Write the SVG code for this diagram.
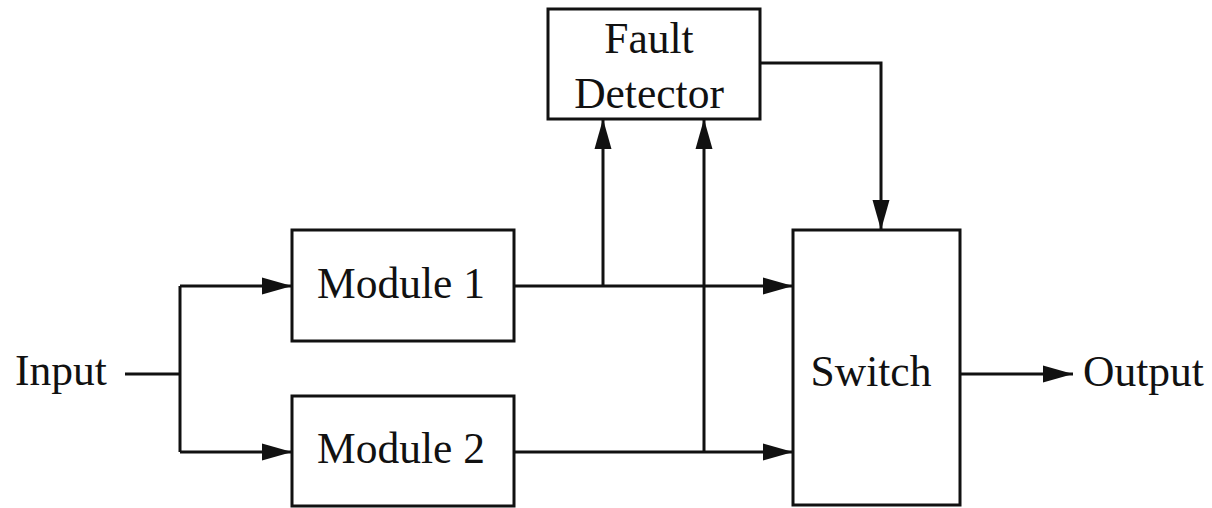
<svg xmlns="http://www.w3.org/2000/svg" width="1212" height="508" viewBox="0 0 1212 508">
  <style>
    .box { fill: #ffffff; stroke: #111111; stroke-width: 3; }
    .wire { fill: none; stroke: #111111; stroke-width: 3; }
    .lbl { font-family: "Liberation Serif", "Times New Roman", serif; font-size: 43.5px; fill: #111111; text-anchor: middle; }
    .side { text-anchor: start; }
  </style>
  <defs>
    <marker id="arrow" markerUnits="userSpaceOnUse" markerWidth="32" markerHeight="18" viewBox="0 0 30 18" refX="30" refY="9" orient="auto">
      <path d="M0,0.5 L30,9 L0,17.5 Z" fill="#111111"/>
    </marker>
  </defs>
  <rect width="1212" height="508" fill="#ffffff"/>

  <!-- connectors -->
  <g id="connectors">
    <!-- input split -->
    <path class="wire" d="M125,374 H180"/>
    <path class="wire" d="M180,286 V452"/>
    <path class="wire" d="M180,286 H292" marker-end="url(#arrow)"/>
    <path class="wire" d="M180,452 H292" marker-end="url(#arrow)"/>
    <!-- module outputs to switch -->
    <path class="wire" d="M514,286 H793" marker-end="url(#arrow)"/>
    <path class="wire" d="M514,452 H793" marker-end="url(#arrow)"/>
    <!-- taps up to fault detector -->
    <path class="wire" d="M603,286 V119" marker-end="url(#arrow)"/>
    <path class="wire" d="M704,452 V119" marker-end="url(#arrow)"/>
    <!-- fault detector to switch -->
    <path class="wire" d="M760,63 H881 V230" marker-end="url(#arrow)"/>
    <!-- switch output -->
    <path class="wire" d="M960,374 H1073" marker-end="url(#arrow)"/>
  </g>

  <g id="fault-detector">
    <rect class="box" x="548" y="9" width="212" height="110"/>
    <text class="lbl" x="649" y="53">Fault</text>
    <text class="lbl" x="649" y="108">Detector</text>
  </g>

  <g id="module-1">
    <rect class="box" x="292" y="230" width="222" height="111"/>
    <text class="lbl" x="401" y="298">Module 1</text>
  </g>

  <g id="module-2">
    <rect class="box" x="292" y="396" width="222" height="110"/>
    <text class="lbl" x="401" y="463">Module 2</text>
  </g>

  <g id="switch">
    <rect class="box" x="793" y="230" width="167" height="275"/>
    <text class="lbl" x="871" y="386">Switch</text>
  </g>

  <g id="input">
    <text class="lbl side" x="15" y="385">Input</text>
  </g>

  <g id="output">
    <text class="lbl side" x="1083" y="386">Output</text>
  </g>
</svg>
